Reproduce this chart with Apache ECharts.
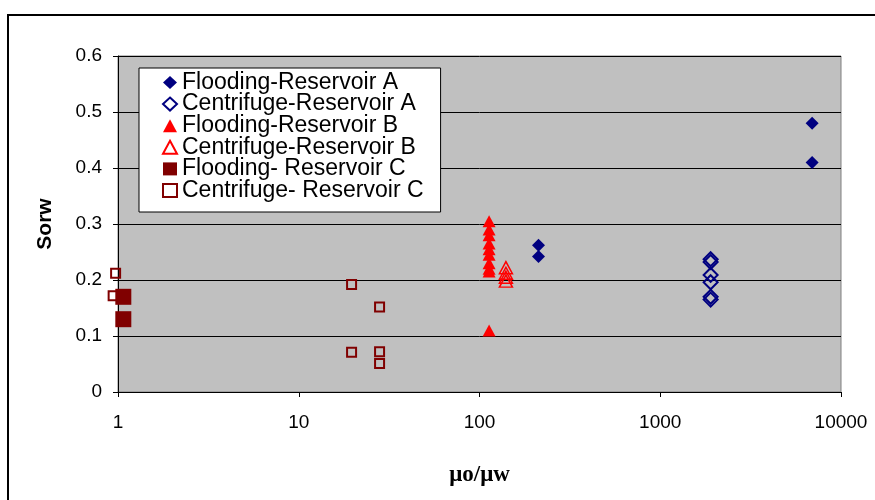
<!DOCTYPE html>
<html>
<head>
<meta charset="utf-8">
<script src="https://cdn.jsdelivr.net/npm/echarts@6/dist/echarts.min.js"></script>
<style>html,body{margin:0;padding:0;background:#fff}#c{width:875px;height:500px}</style>
</head>
<body>
<div id="c"></div>
<script>
const seriesNames = ['Flooding-Reservoir A','Centrifuge-Reservoir A','Flooding-Reservoir B','Centrifuge-Reservoir B','Flooding- Reservoir C','Centrifuge- Reservoir C'];
const xTicks = [1, 10, 100, 1000, 10000];
const yTicks = [0, 0.1, 0.2, 0.3, 0.4, 0.5, 0.6];
const floodingA = [[6920,0.48],[6920,0.41],[212,0.262],[212,0.242]];
const centrifugeA = [[1900,0.237],[1900,0.232],[1900,0.209],[1900,0.196],[1900,0.170],[1900,0.165]];
const floodingB = [[113,0.305],[113,0.29],[113,0.28],[113,0.265],[113,0.255],[113,0.245],[113,0.23],[113,0.22],[113,0.215],[113,0.11]];
const centrifugeB = [[140,0.222],[140,0.212],[140,0.205],[140,0.198]];
const floodingC = [[1.07,0.17],[1.07,0.13]];
const centrifugeC = [[0.97,0.212],[0.94,0.172],[19.6,0.192],[19.6,0.071],[28,0.152],[28,0.072],[28,0.051]];

const chart = echarts.init(document.getElementById('c'), null, {renderer:'canvas'});
const font = 'Liberation Sans, Arial, sans-serif';
chart.setOption({
  animation:false,
  backgroundColor:'#fff',
  graphic:[{type:'rect',shape:{x:8,y:15,width:900,height:600},style:{fill:'none',stroke:'#000',lineWidth:2},z:-1}],
  grid:{left:118,right:34,top:56,bottom:108,show:true,backgroundColor:'#c0c0c0',borderColor:'#808080',borderWidth:1},
  legend:{
    orient:'vertical',left:139,top:68,
    backgroundColor:'#fff',borderColor:'#000',borderWidth:1,
    padding:[3,17,10,23],itemGap:-1.4,itemWidth:14,itemHeight:13,
    textStyle:{fontFamily:font,fontSize:23,color:'#000'},
    data:seriesNames
  },
  xAxis:{
    type:'log',logBase:10,min:xTicks[0],max:xTicks[xTicks.length-1],
    axisLine:{show:true,lineStyle:{color:'#000',width:1}},
    axisTick:{show:true,length:5,lineStyle:{color:'#000'}},
    minorTick:{show:false},
    splitLine:{show:false},
    axisLabel:{fontFamily:font,fontSize:19,color:'#000',margin:21,showMaxLabel:true,formatter:function(v){return String(Math.round(v));}},
    name:'μo/μw',nameLocation:'middle',nameGap:72,
    nameTextStyle:{fontFamily:'Liberation Serif, Times New Roman, serif',fontWeight:'bold',fontSize:23,color:'#000'}
  },
  yAxis:{
    type:'value',min:yTicks[0],max:yTicks[yTicks.length-1],interval:0.1,
    axisLine:{show:true,lineStyle:{color:'#000',width:1}},
    axisTick:{show:true,length:5,lineStyle:{color:'#000'}},
    splitLine:{show:true,lineStyle:{color:'#000',width:1}},
    axisLabel:{fontFamily:font,fontSize:19,color:'#000',margin:16},
    name:'Sorw',nameLocation:'middle',nameGap:62,
    nameTextStyle:{fontFamily:font,fontWeight:'bold',fontSize:21,color:'#000'}
  },
  series:[
    {name:seriesNames[0],type:'scatter',data:floodingA,symbol:'diamond',symbolSize:13,itemStyle:{color:'#000080',opacity:1}},
    {name:seriesNames[1],type:'scatter',data:centrifugeA,symbol:'diamond',symbolSize:14,itemStyle:{color:'rgba(0,0,0,0)',borderColor:'#000080',borderWidth:2,opacity:1}},
    {name:seriesNames[2],type:'scatter',data:floodingB,symbol:'triangle',symbolSize:[13,12],itemStyle:{color:'#ff0000',opacity:1}},
    {name:seriesNames[3],type:'scatter',data:centrifugeB,symbol:'triangle',symbolSize:[13,12],itemStyle:{color:'rgba(0,0,0,0)',borderColor:'#ff0000',borderWidth:1.5,opacity:1}},
    {name:seriesNames[4],type:'scatter',data:floodingC,symbol:'rect',symbolSize:16,itemStyle:{color:'#800000',opacity:1}},
    {name:seriesNames[5],type:'scatter',data:centrifugeC,symbol:'rect',symbolSize:9,clip:false,itemStyle:{color:'rgba(0,0,0,0)',borderColor:'#800000',borderWidth:2,opacity:1}}
  ]
});
</script>
</body>
</html>
